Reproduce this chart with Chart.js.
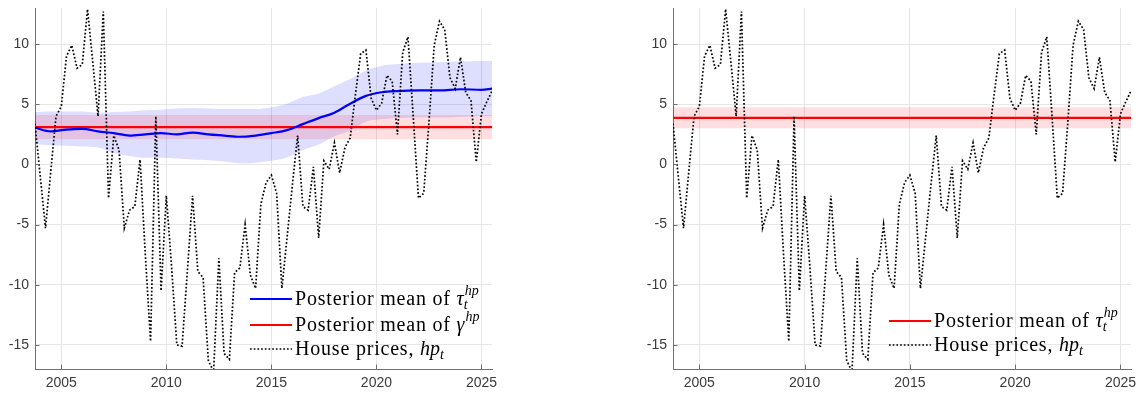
<!DOCTYPE html>
<html>
<head>
<meta charset="utf-8">
<script src="https://cdn.jsdelivr.net/npm/chart.js@4.4.1/dist/chart.umd.min.js"></script>
<style>
  html, body { margin: 0; padding: 0; background: #fff; }
  #wrap { position: relative; width: 1139px; height: 395px; }
  .panel { position: absolute; top: 0; height: 395px; }
  #left { left: 0; width: 500px; }
  #right { left: 638px; width: 501px; }
</style>
</head>
<body>
<div id="wrap">
  <div class="panel" id="left"><canvas id="chartLeft"></canvas></div>
  <div class="panel" id="right"><canvas id="chartRight"></canvas></div>
</div>
<script>
// house prices, quarterly, first observation 2003Q4
const hpStart = 2003.75;
const housePrices = [
  3.4, -1.0, -5.3, -0.6, 4.0, 4.8, 9.0, 9.9, 8.0, 8.3,
  12.9, 8.5, 4.0, 12.7, -2.8, 2.4, 1.2, -5.3, -3.8, -3.5,
  0.4, -7.5, -14.7, 4.0, -10.5, -2.6, -8.5, -15.0, -15.1, -8.9,
  -2.6, -8.9, -9.4, -16.3, -17.2, -7.8, -15.7, -16.2, -9.0, -8.6,
  -5.0, -9.2, -10.3, -3.3, -1.5, -0.9, -2.4, -10.3, -6.0, -1.7,
  2.4, -3.5, -3.8, -0.2, -6.1, 0.3, -0.4, 1.8, -0.7, 1.4,
  2.2, 5.8, 9.2, 9.5, 5.5, 4.5, 5.1, 7.4, 6.9, 2.5,
  9.3, 10.6, 4.0, -2.8, -2.4, 3.5, 9.9, 11.9, 11.2, 7.2,
  6.3, 8.9, 6.0, 5.3, 0.2, 4.2, 5.2, 6.1
];

// time-varying trend (left panel): mean and band
const tauYears = [2003.75, 2004.5, 2005.25, 2006, 2006.75, 2007.5, 2008.25, 2009, 2009.75, 2010.5,
  2011.25, 2012, 2012.75, 2013.5, 2014.25, 2015, 2015.75, 2016.5, 2017.25, 2018,
  2018.75, 2019.5, 2020.25, 2021, 2022, 2023, 2024, 2025, 2025.5];
const tauMean = [3.05, 2.75, 2.9, 2.95, 2.75, 2.6, 2.4, 2.5, 2.6, 2.5,
  2.65, 2.5, 2.4, 2.3, 2.4, 2.6, 2.85, 3.35, 3.85, 4.3,
  5.05, 5.7, 6.0, 6.1, 6.15, 6.15, 6.25, 6.2, 6.3];
const tauUpper = [4.35, 4.4, 4.4, 4.4, 4.3, 4.35, 4.4, 4.5, 4.55, 4.65,
  4.7, 4.65, 4.6, 4.6, 4.6, 4.75, 5.05, 5.6, 5.9, 6.5,
  7.1, 7.8, 8.2, 8.35, 8.45, 8.5, 8.55, 8.6, 8.6];
const tauLower = [1.7, 1.6, 1.55, 1.5, 1.4, 0.95, 0.7, 0.55, 0.55, 0.5,
  0.4, 0.35, 0.25, 0.1, 0.15, 0.3, 0.6, 1.2, 1.65, 2.35,
  2.8, 3.55, 3.75, 3.85, 3.9, 3.9, 3.95, 4.0, 4.0];

// constant trends: [lower, mean, upper]
const gammaLeft = [2.1, 3.1, 4.1];
const tauRight = [3.0, 3.87, 4.75];

const xTicks = [2005, 2010, 2015, 2020, 2025];
const yTicks = [-15, -10, -5, 0, 5, 10];
const xRange = [2003.75, 2025.5];
const yRange = [-17, 13];

const BLUE = '#0000ff', RED = '#ff0000', BLACK = '#000000';
const AXIS = '#707070', GRID = '#e6e6e6', TICKTXT = '#3a3a3a';
const HP_DASH = [1.7, 2.0];

const hpPoints = housePrices.map((y, i) => ({ x: hpStart + i / 4, y }));
const pts = (xs, ys) => xs.map((x, i) => ({ x, y: ys[i] }));
const flat = v => [{ x: xRange[0], y: v }, { x: xRange[1], y: v }];

const base = { pointRadius: 0, pointHoverRadius: 0, fill: false, tension: 0 };

function hpSet() {
  return Object.assign({}, base, { data: hpPoints, borderColor: BLACK, borderWidth: 1.7,
    borderDash: HP_DASH, borderCapStyle: 'butt', order: 0 });
}
function meanSet(data, color, order) {
  return Object.assign({}, base, { data, borderColor: color, borderWidth: 2.2, order,
    cubicInterpolationMode: 'monotone' });
}
function bandSets(upper, lower, fillColor, order) {
  return [
    Object.assign({}, base, { data: upper, borderWidth: 0, borderColor: 'rgba(0,0,0,0)',
      backgroundColor: fillColor, fill: '+1', order, cubicInterpolationMode: 'monotone' }),
    Object.assign({}, base, { data: lower, borderWidth: 0, borderColor: 'rgba(0,0,0,0)',
      order, cubicInterpolationMode: 'monotone' })
  ];
}

// draws inward ticks and a LaTeX-like legend
const matlabDecor = {
  id: 'matlabDecor',
  afterDraw(chart, args, opts) {
    const ctx = chart.ctx, a = chart.chartArea;
    const xs = chart.scales.x, ys = chart.scales.y;
    ctx.save();
    ctx.strokeStyle = AXIS;
    ctx.lineWidth = 1;
    ctx.beginPath();
    yTicks.forEach(v => {
      const p = Math.round(ys.getPixelForValue(v)) + 0.5;
      ctx.moveTo(a.left, p); ctx.lineTo(a.left + 4.5, p);
    });
    xTicks.forEach(v => {
      const p = Math.round(xs.getPixelForValue(v)) + 0.5;
      ctx.moveTo(p, a.bottom); ctx.lineTo(p, a.bottom - 4.5);
    });
    ctx.stroke();

    const x0 = a.left + opts.lineStart, x1 = x0 + 42, tx = x1 + 3;
    opts.items.forEach((it, k) => {
      const y = opts.rows[k];
      ctx.save();
      ctx.strokeStyle = it.color;
      ctx.lineWidth = it.width;
      ctx.setLineDash(it.dash || []);
      ctx.beginPath();
      ctx.moveTo(x0, y); ctx.lineTo(x1, y);
      ctx.stroke();
      ctx.restore();

      let x = tx;
      const bl = y + 6;
      ctx.fillStyle = '#000';
      ctx.textBaseline = 'alphabetic';
      ctx.textAlign = 'left';
      it.parts.forEach(p => {
        if (p.t !== undefined) {
          ctx.font = (p.i ? 'italic ' : '') + '20px "Liberation Serif"';
          ctx.letterSpacing = p.i ? '0px' : '0.8px';
          ctx.fillText(p.t, x, bl);
          x += ctx.measureText(p.t).width;
        } else {
          ctx.letterSpacing = '0px';
          ctx.font = 'italic 14px "Liberation Serif"';
          let w = 0;
          if (p.sup) { ctx.fillText(p.sup, x + 1, bl - 10); w = Math.max(w, ctx.measureText(p.sup).width + 1); }
          if (p.sub) { ctx.fillText(p.sub, x, bl + 4); w = Math.max(w, ctx.measureText(p.sub).width); }
          x += w;
        }
      });
    });
    ctx.restore();
  }
};

function makePanel(id, datasets, legend) {
  return new Chart(document.getElementById(id), {
    type: 'line',
    data: { datasets },
    plugins: [matlabDecor],
    options: {
      responsive: true,
      maintainAspectRatio: false,
      animation: false,
      layout: { padding: { left: 0, right: 8, top: 8, bottom: 0 } },
      plugins: {
        legend: { display: false },
        tooltip: { enabled: false },
        matlabDecor: legend
      },
      scales: {
        x: {
          type: 'linear', min: xRange[0], max: xRange[1],
          afterBuildTicks: s => { s.ticks = xTicks.map(v => ({ value: v })); },
          afterFit: s => { s.height = 26; s.paddingLeft = 0; s.paddingRight = 0; },
          grid: { color: GRID, drawTicks: false },
          border: { display: true, color: AXIS, width: 1 },
          ticks: { color: TICKTXT, padding: 6, maxRotation: 0,
            font: { family: '"Liberation Sans", Arial, sans-serif', size: 14 },
            callback: v => String(v) }
        },
        y: {
          type: 'linear', min: yRange[0], max: yRange[1],
          afterBuildTicks: s => { s.ticks = yTicks.map(v => ({ value: v })); },
          afterFit: s => { s.width = 35; s.paddingTop = 0; s.paddingBottom = 0; },
          grid: { color: GRID, drawTicks: false },
          border: { display: true, color: AXIS, width: 1 },
          ticks: { color: TICKTXT, padding: 6,
            font: { family: '"Liberation Sans", Arial, sans-serif', size: 14 },
            callback: v => String(v) }
        }
      }
    }
  });
}

const tauParts = [{ t: 'Posterior mean of ' }, { t: 'τ', i: true }, { sub: 't', sup: 'hp' }];
const gammaParts = [{ t: 'Posterior mean of ' }, { t: 'γ', i: true }, { sup: 'hp' }];
const hpParts = [{ t: 'House prices, ' }, { t: 'hp', i: true }, { sub: 't' }];

makePanel('chartLeft', [
  hpSet(),
  meanSet(pts(tauYears, tauMean), BLUE, 1),
  meanSet(flat(gammaLeft[1]), RED, 2),
  ...bandSets(flat(gammaLeft[2]), flat(gammaLeft[0]), 'rgba(255,0,30,0.13)', 3),
  ...bandSets(pts(tauYears, tauUpper), pts(tauYears, tauLower), 'rgba(0,0,255,0.13)', 4)
], {
  lineStart: 215,
  rows: [299, 325, 349],
  items: [
    { color: BLUE, width: 2.2, parts: tauParts },
    { color: RED, width: 2.2, parts: gammaParts },
    { color: BLACK, width: 1.7, dash: HP_DASH, parts: hpParts }
  ]
});

makePanel('chartRight', [
  hpSet(),
  meanSet(flat(tauRight[1]), RED, 1),
  ...bandSets(flat(tauRight[2]), flat(tauRight[0]), 'rgba(255,0,30,0.13)', 3)
], {
  lineStart: 216,
  rows: [321, 345],
  items: [
    { color: RED, width: 2.2, parts: tauParts },
    { color: BLACK, width: 1.7, dash: HP_DASH, parts: hpParts }
  ]
});
</script>
</body>
</html>
